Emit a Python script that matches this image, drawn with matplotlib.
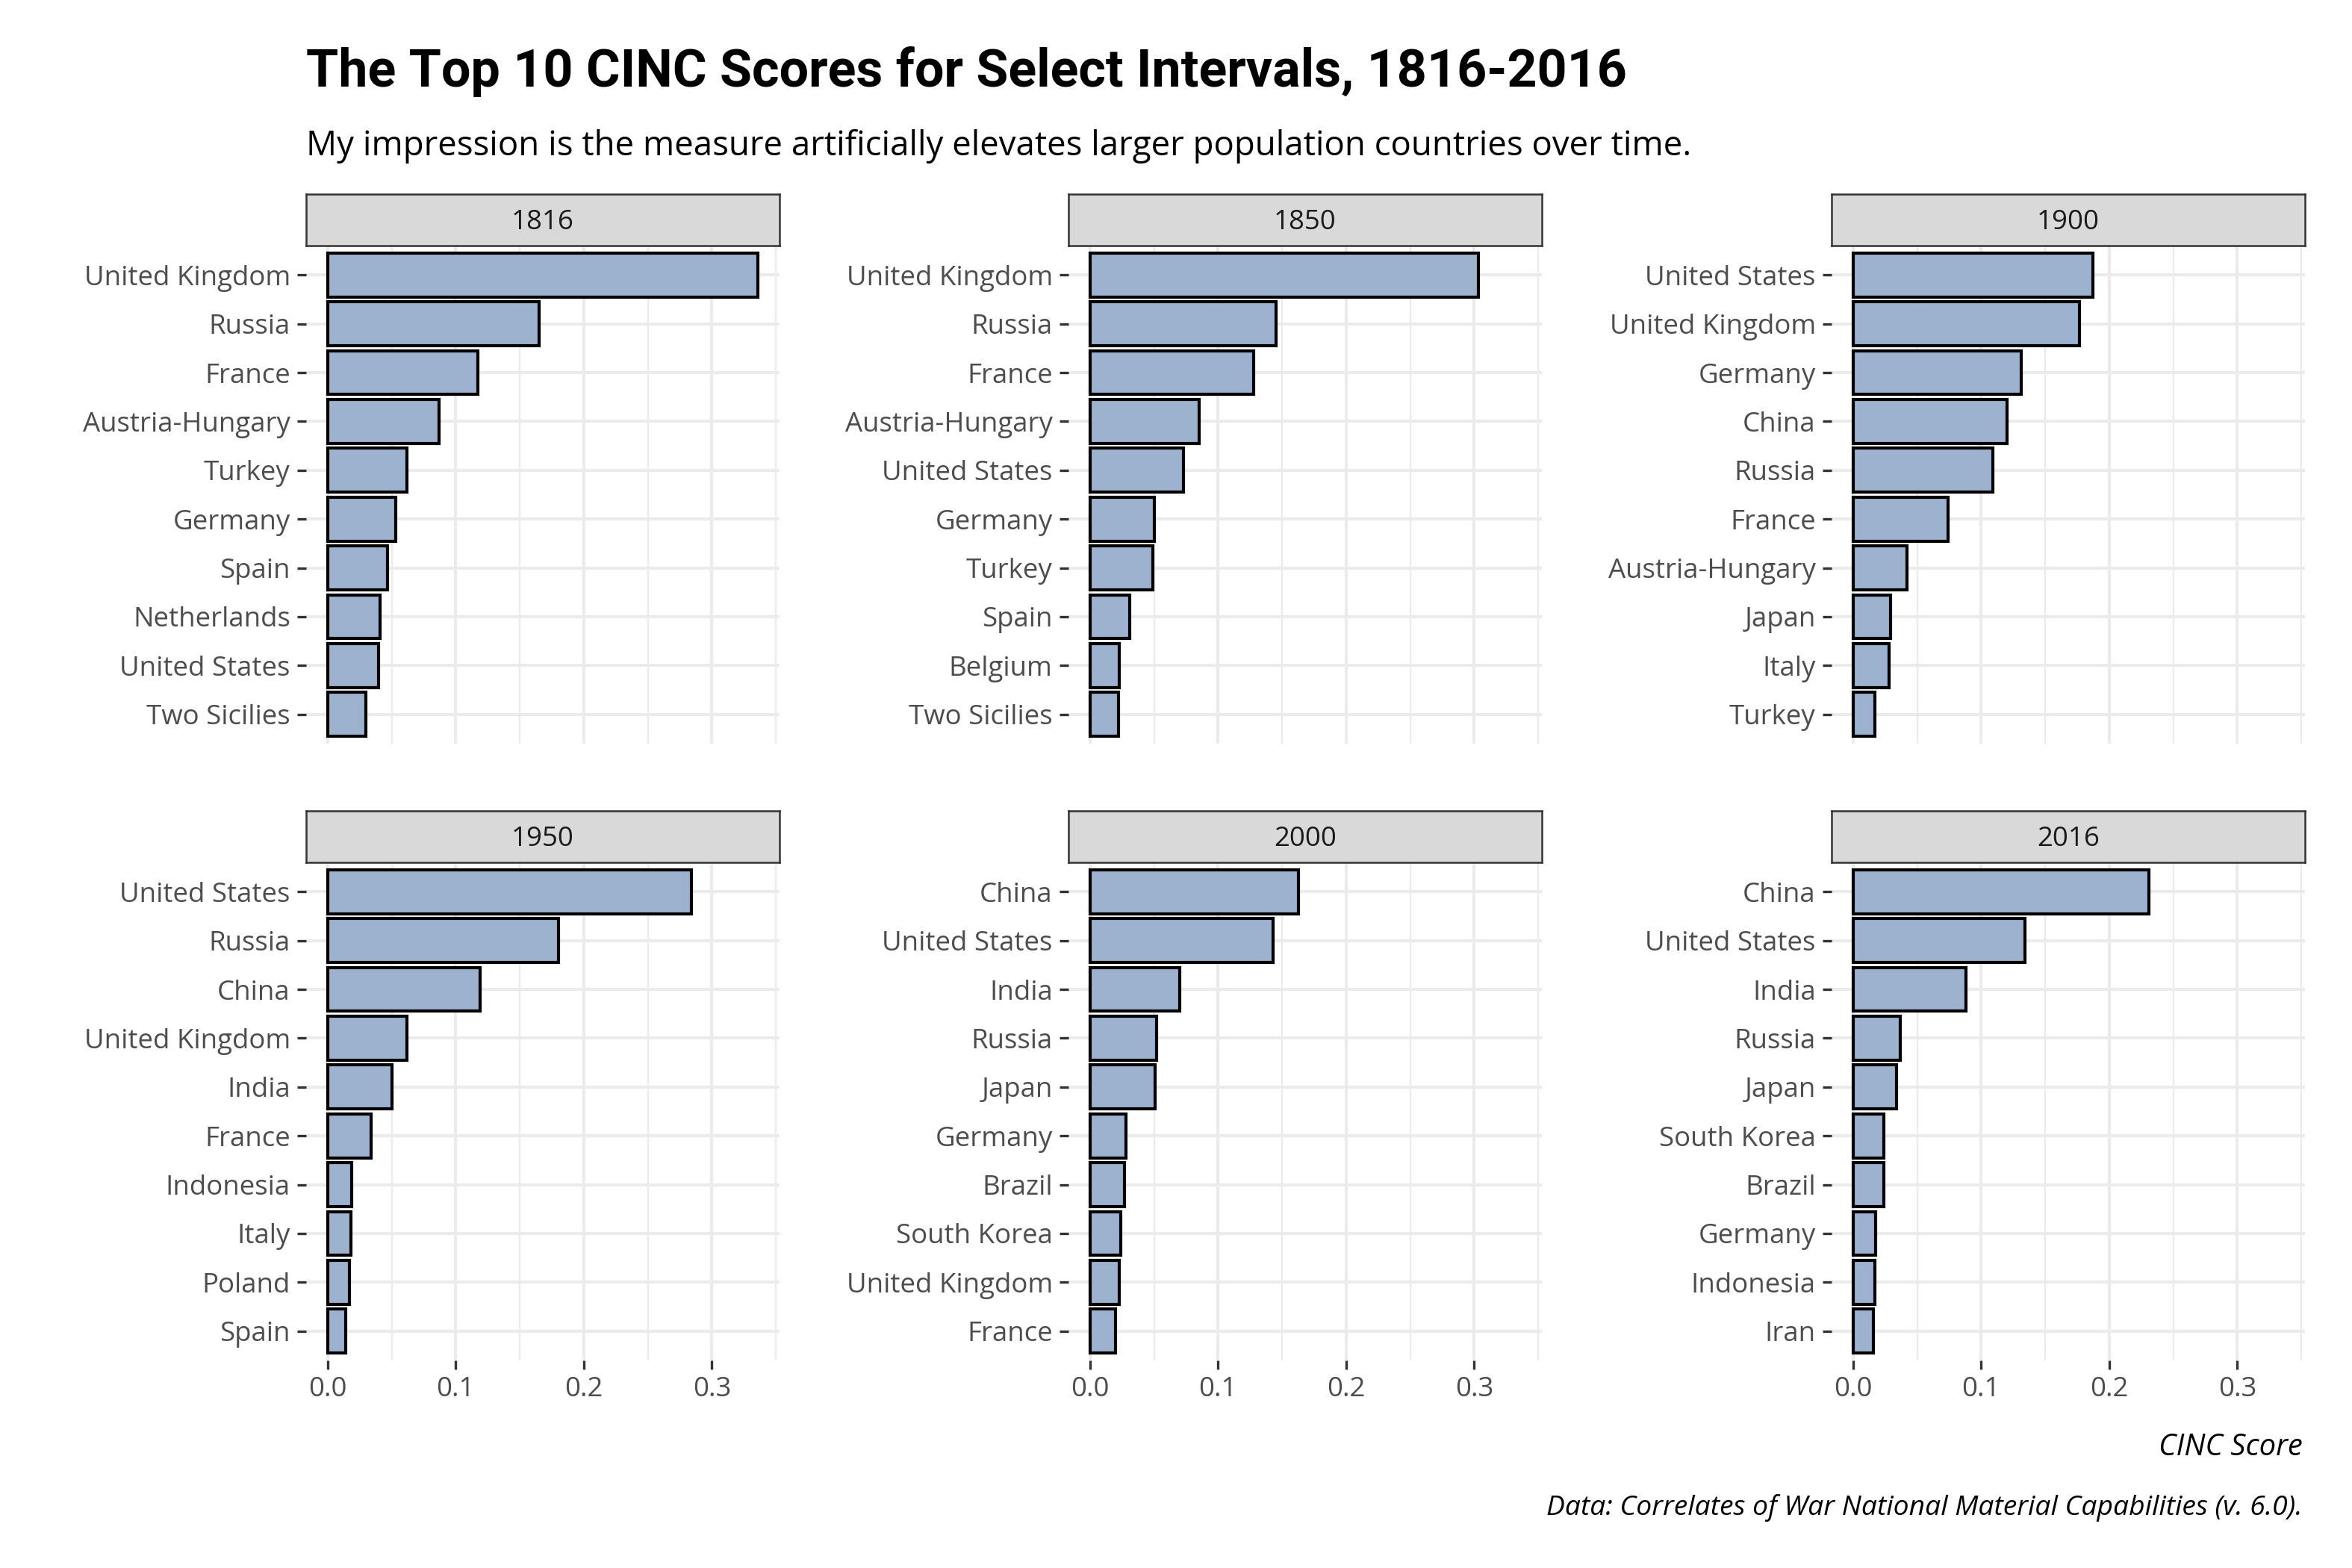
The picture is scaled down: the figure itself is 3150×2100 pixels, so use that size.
import matplotlib
matplotlib.use("Agg")
import matplotlib.pyplot as plt

# ---- data ----
years = ["1816", "1850", "1900", "1950", "2000", "2016"]

countries_1816 = ["United Kingdom", "Russia", "France", "Austria-Hungary", "Turkey",
                  "Germany", "Spain", "Netherlands", "United States", "Two Sicilies"]
scores_1816 = [0.336, 0.165, 0.117, 0.087, 0.062, 0.053, 0.047, 0.041, 0.040, 0.030]

countries_1850 = ["United Kingdom", "Russia", "France", "Austria-Hungary", "United States",
                  "Germany", "Turkey", "Spain", "Belgium", "Two Sicilies"]
scores_1850 = [0.303, 0.145, 0.128, 0.085, 0.073, 0.050, 0.049, 0.031, 0.023, 0.022]

countries_1900 = ["United States", "United Kingdom", "Germany", "China", "Russia",
                  "France", "Austria-Hungary", "Japan", "Italy", "Turkey"]
scores_1900 = [0.187, 0.177, 0.131, 0.120, 0.109, 0.074, 0.042, 0.029, 0.028, 0.017]

countries_1950 = ["United States", "Russia", "China", "United Kingdom", "India",
                  "France", "Indonesia", "Italy", "Poland", "Spain"]
scores_1950 = [0.284, 0.180, 0.119, 0.062, 0.050, 0.034, 0.019, 0.018, 0.017, 0.014]

countries_2000 = ["China", "United States", "India", "Russia", "Japan",
                  "Germany", "Brazil", "South Korea", "United Kingdom", "France"]
scores_2000 = [0.163, 0.143, 0.070, 0.052, 0.051, 0.028, 0.027, 0.024, 0.023, 0.020]

countries_2016 = ["China", "United States", "India", "Russia", "Japan",
                  "South Korea", "Brazil", "Germany", "Indonesia", "Iran"]
scores_2016 = [0.231, 0.134, 0.088, 0.037, 0.034, 0.024, 0.024, 0.0175, 0.017, 0.016]

x_ticks = [0.0, 0.1, 0.2, 0.3]
x_tick_labels = ["0.0", "0.1", "0.2", "0.3"]

title = "The Top 10 CINC Scores for Select Intervals, 1816-2016"
subtitle = "My impression is the measure artificially elevates larger population countries over time."
x_label = "CINC Score"
caption = "Data: Correlates of War National Material Capabilities (v. 6.0)."

panels = [
    (years[0], countries_1816, scores_1816),
    (years[1], countries_1850, scores_1850),
    (years[2], countries_1900, scores_1900),
    (years[3], countries_1950, scores_1950),
    (years[4], countries_2000, scores_2000),
    (years[5], countries_2016, scores_2016),
]

# ---- style ----
plt.rcParams['font.family'] = ['Open Sans', 'DejaVu Sans']
W, H = 3150, 2100
fig = plt.figure(figsize=(W / 300, H / 300), dpi=300)
fig.patch.set_facecolor("white")

BAR_FILL = "#9DB2CE"
GRID = "#EBEBEB"
TXT = "#4D4D4D"

col_left = [410, 1431, 2453]
col_w = 634
rows = [(260, 329, 996), (1086, 1155, 1822)]  # strip top, panel top, panel bottom

all_max = max(max(s) for _, _, s in panels)
pad = 0.05 * all_max
xlim = (-pad, all_max + pad)

for i, (yr, names, vals) in enumerate(panels):
    r, c = divmod(i, 3)
    st, pt, pb = rows[r]
    l = col_left[c]
    ax = fig.add_axes([l / W, 1 - pb / H, col_w / W, (pb - pt) / H])
    pos = list(range(len(names)))
    ax.barh(pos, vals, height=0.9, color=BAR_FILL, edgecolor="black",
            linewidth=1.0, zorder=3)
    ax.set_ylim(len(names) - 0.4, -0.6)
    ax.set_xlim(*xlim)
    ax.set_yticks(pos)
    ax.set_yticklabels(names, fontsize=8.8, color=TXT)
    ax.set_xticks(x_ticks)
    ax.set_xticks([0.05, 0.15, 0.25, 0.35], minor=True)
    ax.grid(True, which="major", axis="both", color=GRID, linewidth=1.0, zorder=0)
    ax.grid(True, which="minor", axis="x", color=GRID, linewidth=0.55, zorder=0)
    ax.set_axisbelow(True)
    for sp in ax.spines.values():
        sp.set_visible(False)
    ax.tick_params(axis="y", length=2.9, width=0.8, color="#333333", pad=2.2)
    ax.tick_params(axis="x", which="minor", length=0)
    if r == 0:
        ax.tick_params(axis="x", which="major", length=0, labelbottom=False)
    else:
        ax.set_xticklabels(x_tick_labels, fontsize=8.8, color=TXT)
        ax.tick_params(axis="x", which="major", length=2.9, width=0.8,
                       color="#333333", pad=2.2)
    # strip
    sax = fig.add_axes([l / W, 1 - pt / H, col_w / W, (pt - st) / H])
    sax.set_facecolor("#D9D9D9")
    sax.set_xticks([])
    sax.set_yticks([])
    for sp in sax.spines.values():
        sp.set_color("#333333")
        sp.set_linewidth(0.6)
    sax.text(0.5, 0.45, yr, ha="center", va="center", fontsize=8.8,
             color="#1A1A1A", transform=sax.transAxes)

fig.text(410 / W, 1 - 116 / H, title, fontsize=16.8, fontweight="bold",
         family=["Roboto", "DejaVu Sans"], ha="left", va="baseline", color="black")
fig.text(410 / W, 1 - 208 / H, subtitle, fontsize=10.95, ha="left",
         va="baseline", color="black")
fig.text(3084 / W, 1 - 1949 / H, x_label, fontsize=9.6, style="italic",
         ha="right", va="baseline", color="black")
fig.text(3084 / W, 1 - 2029 / H, caption, fontsize=8.95, style="italic",
         ha="right", va="baseline", color="black")

fig.savefig("out.png", dpi=300, facecolor="white")
